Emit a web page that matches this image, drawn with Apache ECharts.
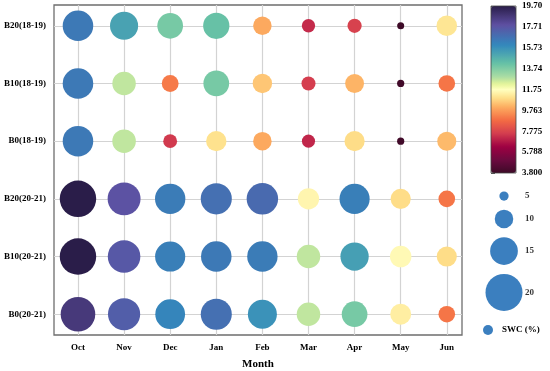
<!DOCTYPE html>
<html>
<head>
<meta charset="utf-8">
<script src="https://cdn.jsdelivr.net/npm/echarts@6/dist/echarts.min.js"></script>
<style>html,body{margin:0;padding:0;background:#fff;}#c{width:550px;height:371px;}</style>
</head>
<body>
<div id="c"></div>
<script>
// ---- data ----
var months = ['Oct','Nov','Dec','Jan','Feb','Mar','Apr','May','Jun'];
var rows = ['B0(20-21)','B10(20-21)','B20(20-21)','B0(18-19)','B10(18-19)','B20(18-19)']; // bottom -> top
var B0_2021  = [18.7, 17.4, 16.1, 16.8, 15.7, 12.7, 13.9, 11.3, 9.0];
var B10_2021 = [19.7, 17.6, 16.3, 16.5, 16.4, 12.7, 15.3, 11.6, 10.9];
var B20_2021 = [19.7, 17.8, 16.4, 16.8, 17.0, 11.5, 16.3, 10.9, 9.0];
var B0_1819  = [16.5, 12.7, 7.5, 11.0, 10.0, 7.1, 10.9, 3.9, 10.3];
var B10_1819 = [16.5, 12.7, 9.1, 13.9, 10.5, 7.6, 10.2, 3.9, 9.0];
var B20_1819 = [16.5, 15.2, 13.9, 14.2, 10.0, 7.2, 7.7, 3.8, 11.1];
var cbTickLabels = ['3.800','5.788','7.775','9.763','11.75','13.74','15.73','17.71','19.70'];
var sizeLegendValues = [5, 10, 15, 20];
var cbMin = 3.8, cbMax = 19.7;

// ---- build ----
var series_rows = [B0_2021, B10_2021, B20_2021, B0_1819, B10_1819, B20_1819];
var mainData = [];
series_rows.forEach(function (arr, r) {
  arr.forEach(function (v, m) { mainData.push([m, r, v]); });
});
var SIZE_K = 1.85;
function sz(v) { return v * SIZE_K; }

// colormap (Spectral-like with dark ends)
var stops = [
  [3.8,'#3d0a27'],[5.0,'#6b0a3f'],[6.3,'#9e0142'],[7.6,'#d53e4f'],[8.85,'#f46d43'],
  [10.1,'#fdae61'],[10.95,'#fee08b'],[11.75,'#ffffbf'],[12.25,'#e6f598'],[12.95,'#abdda4'],
  [14.2,'#66c2a5'],[16.0,'#3288bd'],[17.9,'#5e4fa2'],[19.7,'#2a1d49']
];
function hex2rgb(h){return [parseInt(h.substr(1,2),16),parseInt(h.substr(3,2),16),parseInt(h.substr(5,2),16)];}
function cmap(v){
  for (var i=0;i<stops.length-1;i++){
    if (v<=stops[i+1][0]){
      var t=(v-stops[i][0])/(stops[i+1][0]-stops[i][0]);
      var a=hex2rgb(stops[i][1]), b=hex2rgb(stops[i+1][1]);
      return 'rgb('+Math.round(a[0]+(b[0]-a[0])*t)+','+Math.round(a[1]+(b[1]-a[1])*t)+','+Math.round(a[2]+(b[2]-a[2])*t)+')';
    }
  }
  return stops[stops.length-1][1];
}
var cols = [];
for (var k=0;k<=80;k++){ cols.push(cmap(cbMin+(cbMax-cbMin)*k/80)); }

// size legend layout (computed from sizes)
var legY = [], cy = 16, GAP = 9;
sizeLegendValues.forEach(function (v, i) {
  if (i > 0) cy += sz(sizeLegendValues[i-1])/2 + GAP + sz(v)/2;
  legY.push(cy);
});
var legCircles = sizeLegendValues.map(function (v, i) { return [34, legY[i], v]; });
var legTexts = sizeLegendValues.map(function (v, i) { return [55, legY[i], v]; });

var font = 'Liberation Serif';
var chart = echarts.init(document.getElementById('c'));
chart.setOption({
  animation: false,
  backgroundColor: '#fff',
  textStyle: { fontFamily: font },
  grid: [
    { left: 54, top: 5, width: 408, height: 330, show: true, borderColor: '#6e6e6e', borderWidth: 1.3, backgroundColor: 'transparent', containLabel: false, outerBoundsMode: 'none' },
    { left: 491, top: 6, width: 25, height: 167, show: true, borderColor: '#444', borderWidth: 0.8, backgroundColor: 'transparent', z: 6, containLabel: false, outerBoundsMode: 'none' },
    { left: 470, top: 180, width: 68, height: 170, show: false, containLabel: false, outerBoundsMode: 'none' }
  ],
  xAxis: [
    { type: 'value', gridIndex: 0, min: -0.52, max: 8.33,
      name: 'Month', nameLocation: 'middle', nameGap: 24,
      nameTextStyle: { fontFamily: font, fontWeight: 'bold', fontSize: 11, color: '#000' },
      axisLine: { show: false }, axisTick: { show: false, customValues: months.map(function(m,i){return i;}) },
      axisLabel: { customValues: months.map(function(m,i){return i;}), formatter: function (v) { return months[Math.round(v)]; },
        fontFamily: font, fontWeight: 'bold', fontSize: 9, color: '#000', margin: 8 },
      splitLine: { show: true, lineStyle: { color: '#d3d3d3', width: 1.2 } } },
    { type: 'value', gridIndex: 1, min: 0, max: 1, show: false },
    { type: 'value', gridIndex: 2, min: 0, max: 68, show: false }
  ],
  yAxis: [
    { type: 'value', gridIndex: 0, min: -0.36, max: 5.36,
      axisLine: { show: false }, axisTick: { show: false, customValues: rows.map(function(r,i){return i;}) },
      axisLabel: { customValues: rows.map(function(r,i){return i;}), formatter: function (v) { return rows[Math.round(v)]; },
        fontFamily: font, fontWeight: 'bold', fontSize: 9, color: '#000', margin: 8 },
      splitLine: { show: true, lineStyle: { color: '#d3d3d3', width: 1.2 } } },
    { type: 'value', gridIndex: 1, min: cbMin, max: cbMax, position: 'right',
      axisLine: { show: false },
      axisTick: { show: true, length: 4, customValues: cbTickLabels.map(Number), lineStyle: { color: '#333', width: 0.8 } },
      axisLabel: { customValues: cbTickLabels.map(Number), margin: 6,
        formatter: function (v) { var best = 0; cbTickLabels.forEach(function(s,i){ if (Math.abs(Number(s)-v) < Math.abs(Number(cbTickLabels[best])-v)) best = i; }); return cbTickLabels[best]; },
        fontFamily: font, fontWeight: 'bold', fontSize: 9, color: '#000' },
      splitLine: { show: false } },
    { type: 'value', gridIndex: 2, min: 0, max: 170, inverse: true, show: false }
  ],
  visualMap: {
    type: 'continuous', seriesIndex: 0, dimension: 2, min: cbMin, max: cbMax,
    left: 491, top: 6, itemWidth: 25, itemHeight: 167, padding: 0,
    calculable: false, inRange: { color: cols }, z: 4
  },
  legend: {
    data: ['SWC (%)'], left: 483, top: 325, padding: 0, icon: 'circle',
    itemWidth: 10, itemHeight: 10,
    textStyle: { fontFamily: font, fontWeight: 'bold', fontSize: 9, color: '#000', padding: [0,0,0,4] }
  },
  series: [
    { name: 'SWC (%)', type: 'scatter', xAxisIndex: 0, yAxisIndex: 0, data: mainData,
      symbolSize: function (d) { return sz(d[2]); },
      itemStyle: { color: '#3b7fbf', opacity: 1 }, z: 3 },
    { name: 'sizeLegend', type: 'scatter', xAxisIndex: 2, yAxisIndex: 2, data: legCircles,
      symbolSize: function (d) { return sz(d[2]); }, itemStyle: { color: '#3b7fbf', opacity: 1 }, silent: true },
    { name: 'sizeLegendText', type: 'scatter', xAxisIndex: 2, yAxisIndex: 2, data: legTexts,
      symbolSize: 0, silent: true,
      label: { show: true, position: 'right', distance: 0, formatter: function (p) { return String(p.data[2]); },
        fontFamily: font, fontWeight: 'bold', fontSize: 9, color: '#000' } }
  ]
});
</script>
</body>
</html>
